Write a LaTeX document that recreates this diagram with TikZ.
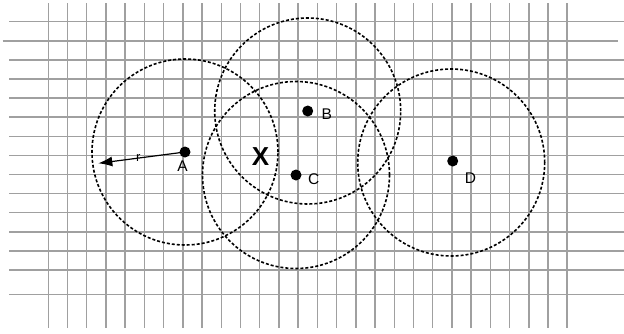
\documentclass[tikz,border=0pt]{standalone}
\usepackage{fontspec}
\setmainfont{Liberation Sans}
\usepackage{xcolor}
\usepackage{tikz}
\usetikzlibrary{
    arrows.meta,
    calc
}
\definecolor{gridgray}{RGB}{160,160,160}
\tikzset
{
  gridline/.style={draw=gridgray,line width=1.5pt},
  rangecircle/.style={draw=black,line width=1.6pt,dash pattern=on 3pt off 2pt},
  beacon/.style={circle,fill=black,inner sep=0pt,minimum size=11pt},
  tag/.style={font=\fontsize{15.5}{17}\selectfont},
  radiusarrow/.style={draw=black,line width=1.2pt,-{Latex[length=14pt,width=10pt]}}
}

\begin{document}
\begin{tikzpicture}[x=1pt,y=-1pt]
        \useasboundingbox (0,0) rectangle (624,333);

        % Grid
        \foreach \i in {0,...,27}
            \draw[gridline] ({48.3+19.22*\i},3) -- ({48.3+19.22*\i},327.5);
        \foreach \j in {0,2,3,...,13}
            \draw[gridline] (9.3,{21.7+19.1*\j}) -- (624,{21.7+19.1*\j});
        \draw[gridline] (2.7,40.8) -- (618.3,40.8); % longer line, shifted left
        \draw[gridline] (9.3,294.5) -- (624,294.5);

        % Stations
        \node[beacon] (A) at (185,152) {};
        \node[beacon] (B) at (307.7,111) {};
        \node[beacon] (C) at (296,175) {};
        \node[beacon] (D) at (452.7,161) {};

        % Ranges round each station
        \draw[rangecircle] (A.center) circle[radius=93pt];
        \draw[rangecircle] (B.center) circle[radius=93pt];
        \draw[rangecircle] (C.center) circle[radius=93.5pt];
        \draw[rangecircle] ($(D.center)+(-1.5,1.5)$) circle[radius=93.5pt];

        % Labels
        \node[tag] (labA) at (182.5,166) {A};
        \node[tag] (labB) at (326.7,113.7) {B};
        \node[tag] (labC) at (313.7,178.8) {C};
        \node[tag] (labD) at (470.5,177.8) {D};
        \node[font=\bfseries\fontsize{26}{26}\selectfont] (X) at (260.5,156.5) {X};

        % Radius
        \coordinate (rtip) at (98.3,163.3);
        \draw[radiusarrow] (A.center) -- (rtip) node[pos=0.54,font=\fontsize{13}{13}\selectfont] (rlab) {r};
    \end{tikzpicture}
\end{document}
